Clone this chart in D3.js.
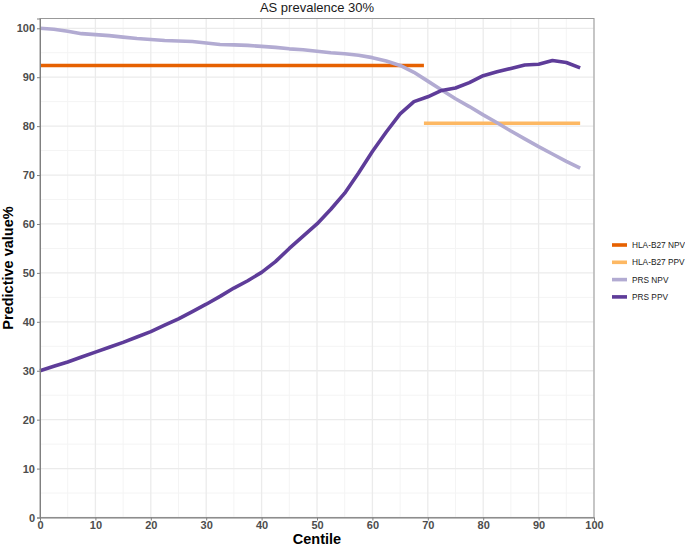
<!DOCTYPE html>
<html>
<head>
<meta charset="utf-8">
<script src="https://cdn.jsdelivr.net/npm/d3@7"></script>
<style>
  body { margin: 0; background: #fff; }
  text { font-family: "Liberation Sans", Arial, sans-serif; }
</style>
</head>
<body>
<svg id="chart" width="685" height="547"></svg>
<script>
// centile positions (steps of 2.5)
var centiles = d3.range(0, 100, 2.5);

var prsNpv = [100, 99.8, 99.4, 98.9, 98.7, 98.5, 98.2, 97.9, 97.7, 97.5,
  97.4, 97.3, 97.0, 96.7, 96.6, 96.5, 96.3, 96.1, 95.8, 95.6,
  95.3, 95.0, 94.8, 94.5, 94.0, 93.3, 92.4, 91.0, 89.2, 87.4,
  85.6, 84.0, 82.3, 80.7, 79.0, 77.4, 75.8, 74.3, 72.8, 71.4];

var prsPpv = [30.0, 30.9, 31.8, 32.8, 33.8, 34.8, 35.8, 36.9, 38.0, 39.3,
  40.6, 42.1, 43.6, 45.2, 46.9, 48.4, 50.1, 52.3, 55.0, 57.5,
  60.0, 63.0, 66.3, 70.4, 74.8, 78.8, 82.5, 85.0, 86.0, 87.3,
  87.8, 88.9, 90.3, 91.1, 91.8, 92.5, 92.65, 93.4, 93.0, 91.9];

// HLA-B27 segments: [start centile, end centile]
var hlaNpvX = [0, 69.3];
var hlaNpvVal = 92.4;
var hlaPpvX = [69.3, 97.5];
var hlaPpvVal = 80.6;

var seriesNames = ["HLA-B27 NPV", "HLA-B27 PPV", "PRS NPV", "PRS PPV"];
var seriesColors = ["#e66101", "#fdb863", "#b2abd2", "#5e3c99"];

var xTicks = d3.range(0, 101, 10);
var yTicks = d3.range(0, 101, 10);

var svg = d3.select("#chart");
var pLeft = 40, pRight = 594, pTop = 18.5, pBottom = 517.5;

var x = d3.scaleLinear().domain([0, 100]).range([pLeft, pRight]);
var y = d3.scaleLinear().domain([0, 102]).range([pBottom, pTop]);
var color = d3.scaleOrdinal().domain(seriesNames).range(seriesColors);

// minor grid
var minorX = d3.range(5, 100, 10);
var minorY = d3.range(5, 101, 10);
svg.append("g").selectAll("line").data(minorX).enter().append("line")
  .attr("x1", function (d) { return x(d); }).attr("x2", function (d) { return x(d); })
  .attr("y1", pTop).attr("y2", pBottom)
  .attr("stroke", "#f4f4f4").attr("stroke-width", 1);
svg.append("g").selectAll("line").data(minorY).enter().append("line")
  .attr("y1", function (d) { return y(d); }).attr("y2", function (d) { return y(d); })
  .attr("x1", pLeft).attr("x2", pRight)
  .attr("stroke", "#f4f4f4").attr("stroke-width", 1);

// major grid
svg.append("g").selectAll("line").data(xTicks).enter().append("line")
  .attr("x1", function (d) { return x(d); }).attr("x2", function (d) { return x(d); })
  .attr("y1", pTop).attr("y2", pBottom)
  .attr("stroke", "#ebebeb").attr("stroke-width", 1.3);
svg.append("g").selectAll("line").data(yTicks).enter().append("line")
  .attr("y1", function (d) { return y(d); }).attr("y2", function (d) { return y(d); })
  .attr("x1", pLeft).attr("x2", pRight)
  .attr("stroke", "#ebebeb").attr("stroke-width", 1.3);

// lines
var line = d3.line()
  .x(function (d) { return x(d[0]); })
  .y(function (d) { return y(d[1]); });

var lw = 3.6;
svg.append("path")
  .attr("d", line(hlaNpvX.map(function (c) { return [c, hlaNpvVal]; })))
  .attr("fill", "none").attr("stroke", color("HLA-B27 NPV")).attr("stroke-width", lw);
svg.append("path")
  .attr("d", line(hlaPpvX.map(function (c) { return [c, hlaPpvVal]; })))
  .attr("fill", "none").attr("stroke", color("HLA-B27 PPV")).attr("stroke-width", lw);
svg.append("path")
  .attr("d", line(centiles.map(function (c, i) { return [c, prsNpv[i]]; })))
  .attr("fill", "none").attr("stroke", color("PRS NPV")).attr("stroke-width", lw)
  .attr("stroke-linejoin", "round");
svg.append("path")
  .attr("d", line(centiles.map(function (c, i) { return [c, prsPpv[i]]; })))
  .attr("fill", "none").attr("stroke", color("PRS PPV")).attr("stroke-width", lw)
  .attr("stroke-linejoin", "round");

// panel border
svg.append("rect")
  .attr("x", pLeft).attr("y", pTop)
  .attr("width", pRight - pLeft).attr("height", pBottom - pTop)
  .attr("fill", "none").attr("stroke", "#999").attr("stroke-width", 1);

// axes
var xAxis = svg.append("g")
  .attr("transform", "translate(0," + pBottom + ")")
  .call(d3.axisBottom(x).tickValues(xTicks).tickSize(3).tickPadding(1));
var yAxis = svg.append("g")
  .attr("transform", "translate(" + pLeft + ",0)")
  .call(d3.axisLeft(y).tickValues(yTicks).tickSize(3).tickPadding(2));
[xAxis, yAxis].forEach(function (a) {
  a.select(".domain").attr("stroke", "#808080");
  a.selectAll(".tick line").attr("stroke", "#808080");
  a.selectAll("text")
    .attr("fill", "#4d4d4d")
    .style("font-size", "11px")
    .style("font-weight", "bold")
    .style("font-family", "'Liberation Sans', Arial, sans-serif");
});

// titles
svg.append("text")
  .attr("x", (pLeft + pRight) / 2).attr("y", 12)
  .attr("text-anchor", "middle")
  .style("font-size", "13px")
  .attr("fill", "#1a1a1a")
  .text("AS prevalence 30%");
svg.append("text")
  .attr("x", (pLeft + pRight) / 2).attr("y", 544)
  .attr("text-anchor", "middle")
  .style("font-size", "14.5px").style("font-weight", "bold")
  .text("Centile");
svg.append("text")
  .attr("transform", "translate(13," + ((pTop + pBottom) / 2) + ") rotate(-90)")
  .attr("text-anchor", "middle")
  .style("font-size", "14.5px").style("font-weight", "bold")
  .text("Predictive value%");

// legend
var legend = svg.append("g").attr("transform", "translate(612,245)");
var items = legend.selectAll("g").data(seriesNames).enter().append("g")
  .attr("transform", function (d, i) { return "translate(0," + (i * 17.3) + ")"; });
items.append("line")
  .attr("x1", 0).attr("x2", 15).attr("y1", 0).attr("y2", 0)
  .attr("stroke", function (d) { return color(d); }).attr("stroke-width", lw);
items.append("text")
  .attr("x", 20).attr("y", 3.1)
  .style("font-size", "8.3px")
  .attr("fill", "#1a1a1a")
  .text(function (d) { return d; });
</script>
</body>
</html>
